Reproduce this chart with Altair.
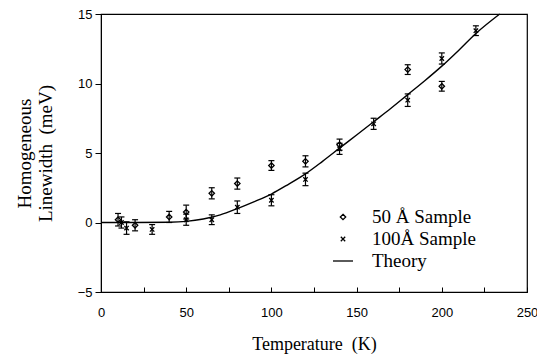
import altair as alt
import pandas as pd

# ---- data ----
T50 = [10, 20, 40, 50, 65, 80, 100, 120, 140, 180, 200]
W50 = [0.2, -0.2, 0.4, 0.75, 2.1, 2.8, 4.1, 4.4, 5.6, 11.0, 9.8]
E50 = [0.45, 0.4, 0.4, 0.5, 0.4, 0.4, 0.35, 0.4, 0.4, 0.35, 0.35]

T100 = [12, 15, 30, 50, 65, 80, 100, 120, 140, 160, 180, 200, 220]
W100 = [0.0, -0.4, -0.5, 0.2, 0.2, 1.1, 1.6, 3.1, 5.3, 7.1, 8.8, 11.8, 13.8]
E100 = [0.4, 0.45, 0.35, 0.4, 0.35, 0.45, 0.4, 0.45, 0.4, 0.4, 0.45, 0.4, 0.35]

TH_T = [0, 20, 40, 50, 60, 70, 80, 90, 100, 110, 120, 130, 140, 150, 160,
        170, 180, 190, 200, 210, 220, 234]
TH_W = [0, 0, 0.02, 0.08, 0.25, 0.55, 1.0, 1.5, 2.05, 2.75, 3.5, 4.4, 5.35,
        6.3, 7.25, 8.2, 9.2, 10.2, 11.25, 12.4, 13.6, 15]

S50 = "50 Å Sample"
S100 = "100Å Sample"
STH = "Theory"

pts = pd.DataFrame({
    "T": T50 + T100,
    "W": W50 + W100,
    "E": E50 + E100,
    "s": [S50] * len(T50) + [S100] * len(T100),
})
pts["lo"] = pts["W"] - pts["E"]
pts["hi"] = pts["W"] + pts["E"]
theory = pd.DataFrame({"T": TH_T, "W": TH_W})

SERIF = "Liberation Serif"
SANS = "Liberation Sans"
NB = "\u00a0"

xscale = alt.Scale(domain=[0, 250], nice=False)
yscale = alt.Scale(domain=[-5, 15], nice=False)

yax = alt.Axis(title=["Homogeneous", "Linewidth" + NB + NB + "(meV)"], values=[-5, 0, 5, 10, 15],
               tickSize=6, labelPadding=3, grid=False, titlePadding=22,
               labelFont=SANS, labelFontSize=13, titleFont=SERIF, titleFontSize=19,
               titleFontWeight="normal", labelColor="black", titleColor="black",
               domainColor="black", tickColor="black")

xbottom = alt.Axis(title="Temperature" + NB + NB + "(K)", values=[0, 50, 100, 150, 200, 250],
                   ticks=False, labelPadding=14, grid=False, titlePadding=16,
                   labelFont=SANS, labelFontSize=13, titleFont=SERIF, titleFontSize=18,
                   titleFontWeight="normal", labelColor="black", titleColor="black",
                   domainColor="black", labelFlush=False)

xtop = alt.Axis(orient="top", offset=-278, title=None, labels=False, domain=False,
                values=list(range(0, 251, 25)), tickSize=5, tickColor="black", grid=False)

line = alt.Chart(theory).mark_line(color="black", strokeWidth=1.4, interpolate="monotone").encode(
    x=alt.X("T:Q", scale=xscale, axis=xbottom),
    y=alt.Y("W:Q", scale=yscale, axis=yax),
)

bars = alt.Chart(pts).mark_rule(color="black", strokeWidth=1.2).encode(
    x=alt.X("T:Q", scale=xscale, axis=None),
    y=alt.Y("lo:Q", scale=yscale, axis=yax),
    y2="hi:Q",
)

cap_lo = alt.Chart(pts).mark_tick(color="black", orient="horizontal", size=6, thickness=1.2, opacity=1).encode(
    x=alt.X("T:Q", scale=xscale, axis=None),
    y=alt.Y("lo:Q", scale=yscale, axis=yax),
)
cap_hi = alt.Chart(pts).mark_tick(color="black", orient="horizontal", size=6, thickness=1.2, opacity=1).encode(
    x=alt.X("T:Q", scale=xscale, axis=None),
    y=alt.Y("hi:Q", scale=yscale, axis=yax),
)

DIAMOND = "M0,-0.27L0.27,0L0,0.27L-0.27,0Z"
CROSS = "M-0.22,-0.22L0.22,0.22M0.22,-0.22L-0.22,0.22"

points = alt.Chart(pts).mark_point(color="black", filled=False, strokeWidth=1.3, size=400, opacity=1).encode(
    x=alt.X("T:Q", scale=xscale, axis=xtop),
    y=alt.Y("W:Q", scale=yscale, axis=yax),
    shape=alt.Shape("s:N", scale=alt.Scale(domain=[S50, S100, STH], range=[DIAMOND, CROSS, "stroke"]),
                    legend=alt.Legend(title=None, orient="none", legendX=231, legendY=192,
                                      symbolSize=400, symbolStrokeWidth=1.3, symbolStrokeColor="black",
                                      labelFont=SERIF, labelFontSize=19, labelColor="black",
                                      labelOffset=18, rowPadding=1, padding=0, symbolOpacity=1)),
)

chart = alt.layer(line, bars, cap_lo, cap_hi, points).resolve_axis(x="independent").properties(
    width=426, height=278,
    autosize=alt.AutoSizeParams(type="none"),
    padding={"left": 93, "top": 6, "right": 10, "bottom": 62},
    background="white",
).configure_view(stroke="black", strokeWidth=1.2)

chart.save("out.html", embed_options={"renderer": "svg", "actions": False})
